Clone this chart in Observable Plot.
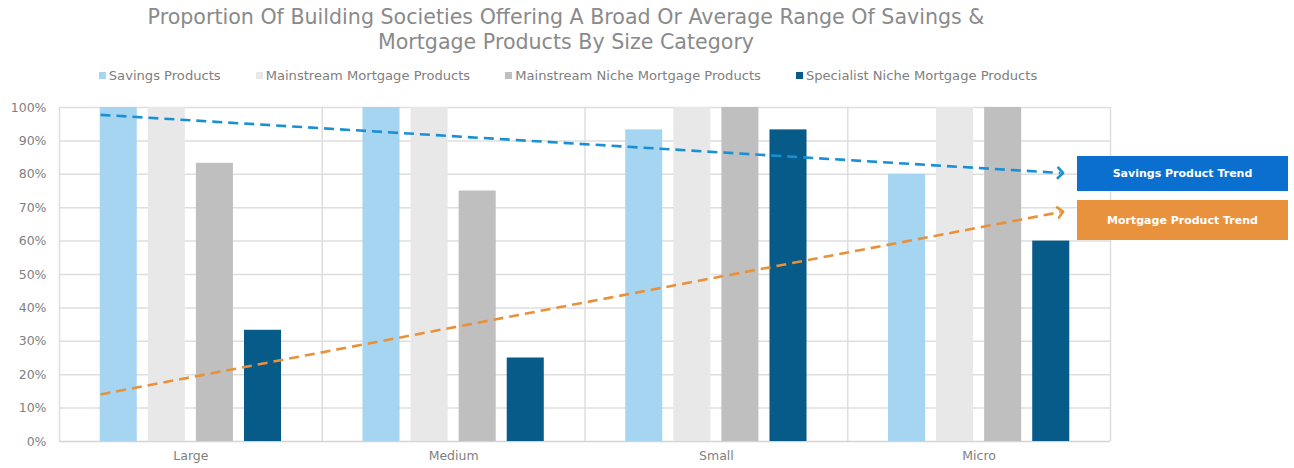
<!DOCTYPE html>
<html><head><meta charset="utf-8">
<script src="https://cdn.jsdelivr.net/npm/d3@7"></script>
<script src="https://cdn.jsdelivr.net/npm/@observablehq/plot@0.6"></script>
<style>
body{margin:0;background:#fff;font-family:"DejaVu Sans",sans-serif;}
#wrap{position:relative;width:1294px;height:468px;overflow:hidden;}
#title{position:absolute;left:0;top:5px;width:1132px;text-align:center;font-size:20.6px;line-height:25px;color:#8a8a8a;}
#legend{position:absolute;top:68px;left:0;width:1136px;display:flex;justify-content:center;font-size:13.1px;color:#808080;white-space:nowrap;}
#legend .item{display:flex;align-items:center;margin:0 17.5px;}
#legend .sw{width:7px;height:7px;margin-right:3px;}
#chart{position:absolute;top:90px;left:0;}
.box{position:absolute;left:1077px;width:211px;color:#fff;font-weight:bold;font-size:11px;display:flex;align-items:center;justify-content:center;}
</style></head>
<body>
<div id="wrap">
  <div id="title">Proportion Of Building Societies Offering A Broad Or Average Range Of Savings &amp;<br>Mortgage Products By Size Category</div>
  <div id="legend"></div>
  <div id="chart"></div>
</div>
<script>
const categories = ["Large", "Medium", "Small", "Micro"];
const seriesNames = ["Savings Products", "Mainstream Mortgage Products", "Mainstream Niche Mortgage Products", "Specialist Niche Mortgage Products"];
const savingsProducts = [100, 100, 93.3, 80];
const mainstreamMortgage = [100, 100, 100, 100];
const mainstreamNiche = [83.3, 75, 100, 100];
const specialistNiche = [33.3, 25, 93.3, 60];
const seriesColors = ["#a6d5f1", "#e8e8e8", "#bfbfbf", "#075b89"];
const yTicks = [0, 10, 20, 30, 40, 50, 60, 70, 80, 90, 100];

// trend arrows: start/end value, start/end position in category units
const trendNames = ["Savings Product Trend", "Mortgage Product Trend"];
const trendStartValue = [97.8, 14.1];
const trendEndValue = [80.4, 68.7];
const trendStartPos = [0.156, 0.156];
const trendEndPos = [3.81, 3.81];
const trendColors = ["#1a90d4", "#e8913a"];
const boxColors = ["#0b6fd0", "#e9923d"];

const seriesValues = [savingsProducts, mainstreamMortgage, mainstreamNiche, specialistNiche];
const rows = [];
categories.forEach((c, ci) => seriesNames.forEach((s, si) => rows.push({cat: c, ci, series: s, si, value: seriesValues[si][ci]})));

const barW = 0.141, step = 0.183;
const groupStart = 0.5 - (1.5 * step) - barW / 2;

const trends = trendNames.map((n, i) => ({name: n, x1: trendStartPos[i], x2: trendEndPos[i], y1: trendStartValue[i], y2: trendEndValue[i], color: trendColors[i]}));

// legend
const legend = document.getElementById("legend");
seriesNames.forEach((s, i) => {
  const it = document.createElement("div"); it.className = "item";
  it.innerHTML = `<span class="sw" style="background:${seriesColors[i]}"></span><span>${s}</span>`;
  legend.appendChild(it);
});

const grid = "#dedede";
const plot = Plot.plot({
  width: 1294, height: 378,
  marginLeft: 59, marginRight: 184, marginTop: 17, marginBottom: 27,
  style: {fontFamily: "DejaVu Sans, sans-serif", fontSize: "12px", color: "#7f7f7f", background: "#fff"},
  x: {type: "linear", domain: [0, categories.length]},
  y: {domain: [0, 100]},
  color: {domain: seriesNames, range: seriesColors},
  marks: [
    Plot.ruleY(yTicks.slice(1), {stroke: grid, strokeWidth: 1.5}),
    Plot.ruleX(d3.range(categories.length + 1), {y1: 0, y2: 100, stroke: grid, strokeWidth: 1.5}),
    Plot.ruleY([0], {stroke: "#d4d4d4", strokeWidth: 1.5}),
    Plot.rectY(rows, {x1: d => d.ci + groupStart + d.si * step, x2: d => d.ci + groupStart + d.si * step + barW, y1: 0, y2: "value", fill: "series"}),
    Plot.link(trends, {x1: "x1", y1: "y1", x2: "x2", y2: "y2", stroke: "color", strokeWidth: 2.6, strokeDasharray: "10,6", markerEnd: "arrow"}),
    Plot.axisY({ticks: yTicks, tickFormat: d => d + "%", tickSize: 0, tickPadding: 13, fontSize: 12.5}),
    Plot.axisX({ticks: categories.map((c, i) => i + 0.5), tickFormat: d => categories[Math.floor(d)], tickSize: 0, tickPadding: 10, fontSize: 12.5})
  ]
});
document.getElementById("chart").appendChild(plot);

// trend label boxes
const boxTops = [156, 200], boxHeights = [35, 40];
trendNames.forEach((n, i) => {
  const b = document.createElement("div"); b.className = "box";
  b.style.top = boxTops[i] + "px"; b.style.height = boxHeights[i] + "px"; b.style.background = boxColors[i];
  b.textContent = n;
  document.getElementById("wrap").appendChild(b);
});
</script>
</body></html>
